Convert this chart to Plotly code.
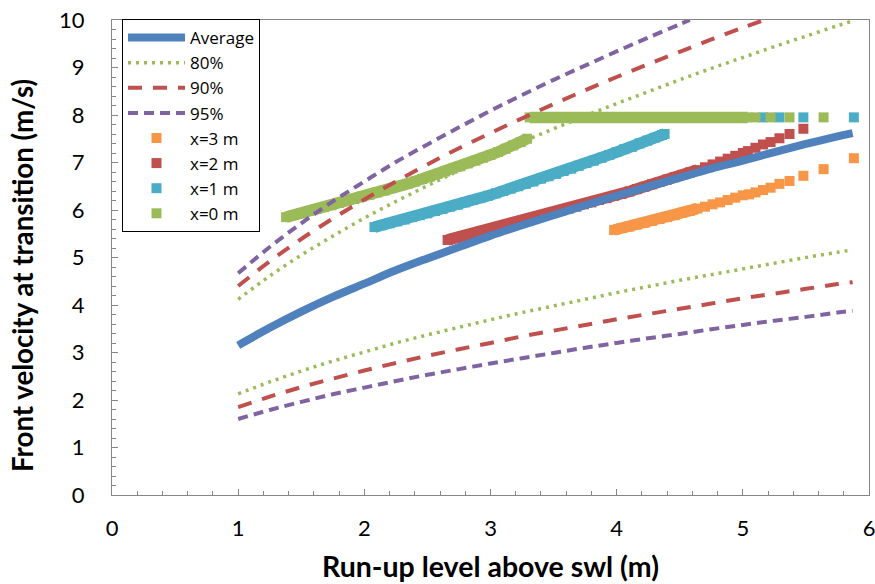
import plotly.graph_objects as go

# ---------------- data ----------------
curve_x = [1.0, 1.25, 1.5, 1.75, 2.0, 2.25, 2.5, 2.75, 3.0, 3.25, 3.5, 3.75,
           4.0, 4.25, 4.5, 4.75, 5.0, 5.25, 5.5, 5.75, 5.87]
avg_y = [3.15, 3.52, 3.86, 4.17, 4.45, 4.73, 4.98, 5.22, 5.46, 5.68, 5.89, 6.10,
         6.30, 6.49, 6.68, 6.87, 7.04, 7.22, 7.39, 7.55, 7.62]

p80_up = [4.12, 4.61, 5.05, 5.45, 5.83, 6.18, 6.51, 6.83, 7.14, 7.43, 7.71, 7.98,
          8.24, 8.49, 8.74, 8.98, 9.21, 9.44, 9.66, 9.88, 9.98]
p80_low = [2.13, 2.38, 2.61, 2.82, 3.01, 3.20, 3.37, 3.53, 3.69, 3.84, 3.98, 4.12,
           4.26, 4.39, 4.52, 4.64, 4.76, 4.88, 5.00, 5.11, 5.16]

p90_up_x = [1.0, 1.25, 1.5, 1.75, 2.0, 2.25, 2.5, 2.75, 3.0, 3.25, 3.5, 3.75,
            4.0, 4.25, 4.5, 4.75, 5.0, 5.17]
p90_up = [4.40, 4.92, 5.39, 5.82, 6.22, 6.60, 6.96, 7.30, 7.62, 7.93, 8.23, 8.52,
          8.80, 9.07, 9.33, 9.59, 9.84, 10.0]
p90_low = [1.85, 2.07, 2.27, 2.45, 2.62, 2.78, 2.93, 3.07, 3.20, 3.34, 3.46, 3.58,
           3.70, 3.81, 3.92, 4.03, 4.14, 4.24, 4.34, 4.44, 4.48]

p95_up_x = [1.0, 1.25, 1.5, 1.75, 2.0, 2.25, 2.5, 2.75, 3.0, 3.25, 3.5, 3.75,
            4.0, 4.25, 4.5, 4.58]
p95_up = [4.67, 5.22, 5.72, 6.18, 6.60, 7.01, 7.38, 7.74, 8.09, 8.42, 8.74, 9.04,
          9.34, 9.63, 9.91, 10.0]
p95_low = [1.60, 1.79, 1.96, 2.12, 2.26, 2.40, 2.53, 2.65, 2.77, 2.88, 2.99, 3.10,
           3.20, 3.30, 3.39, 3.49, 3.58, 3.67, 3.75, 3.84, 3.88]

# x = 3 m (orange)
x3_x = [3.98, 4.04, 4.10, 4.16, 4.22, 4.28, 4.34, 4.40, 4.46, 4.52, 4.58, 4.64,
        4.70, 4.76, 4.82, 4.88, 4.94, 5.00, 5.05,
        5.10, 5.16, 5.22, 5.29, 5.37, 5.48, 5.64, 5.88]
x3_y = [5.58, 5.62, 5.65, 5.69, 5.73, 5.77, 5.81, 5.85, 5.89, 5.94, 5.98, 6.03,
        6.07, 6.12, 6.16, 6.21, 6.26, 6.31, 6.33,
        6.37, 6.42, 6.47, 6.55, 6.61, 6.72, 6.86, 7.09]

# x = 2 m (red)
x2_x = [2.66, 2.72, 2.78, 2.84, 2.90, 2.96, 3.02, 3.08, 3.14, 3.20, 3.26, 3.32,
        3.38, 3.44, 3.50, 3.56, 3.62, 3.68, 3.74, 3.80, 3.86, 3.92, 3.98, 4.04,
        4.10, 4.16, 4.22, 4.28, 4.34, 4.40, 4.46, 4.52, 4.58, 4.64, 4.70, 4.76,
        4.82, 4.88, 4.94, 5.00, 5.04,
        5.10, 5.16, 5.22, 5.29, 5.37, 5.48]
x2_y = [5.37, 5.41, 5.45, 5.49, 5.53, 5.57, 5.61, 5.65, 5.69, 5.73, 5.78, 5.82,
        5.86, 5.90, 5.95, 5.99, 6.03, 6.07, 6.12, 6.16, 6.21, 6.25, 6.30, 6.34,
        6.39, 6.44, 6.49, 6.54, 6.59, 6.64, 6.69, 6.74, 6.79, 6.84, 6.90, 6.96,
        7.02, 7.08, 7.14, 7.20, 7.24,
        7.31, 7.38, 7.43, 7.51, 7.60, 7.71]

# x = 1 m (cyan)
x1_x = [2.08, 2.14, 2.20, 2.26, 2.32, 2.38, 2.44, 2.50, 2.56, 2.62, 2.68, 2.74,
        2.80, 2.86, 2.92, 2.98, 3.04, 3.10, 3.16, 3.22, 3.28, 3.34, 3.40, 3.46,
        3.52, 3.58, 3.64, 3.70, 3.76, 3.82, 3.88, 3.94, 4.00, 4.06, 4.12, 4.18,
        4.24, 4.30, 4.36, 4.38,
        5.16, 5.29, 5.48, 5.88]
x1_y = [5.64, 5.68, 5.72, 5.76, 5.80, 5.85, 5.89, 5.93, 5.98, 6.02, 6.07, 6.11,
        6.16, 6.21, 6.25, 6.30, 6.35, 6.40, 6.45, 6.50, 6.55, 6.60, 6.66, 6.71,
        6.76, 6.82, 6.87, 6.93, 6.99, 7.04, 7.10, 7.16, 7.22, 7.28, 7.33, 7.40,
        7.46, 7.52, 7.58, 7.60,
        7.95, 7.95, 7.95, 7.95]

# x = 0 m (green)
x0_x = [1.38, 1.44, 1.50, 1.56, 1.62, 1.68, 1.74, 1.80, 1.86, 1.92, 1.98, 2.04,
        2.10, 2.16, 2.22, 2.28, 2.34, 2.40, 2.46, 2.52, 2.58, 2.64, 2.70, 2.76,
        2.82, 2.88, 2.94, 3.00, 3.06, 3.12, 3.18, 3.24, 3.29,
        3.31, 3.37, 3.43, 3.49, 3.55, 3.61, 3.67, 3.73, 3.79, 3.85, 3.91, 3.97,
        4.03, 4.09, 4.15, 4.21, 4.27, 4.33, 4.39, 4.45, 4.51, 4.57, 4.63, 4.69,
        4.75, 4.81, 4.87, 4.93, 4.99, 5.04, 5.10, 5.22, 5.37, 5.64]
x0_y = [5.85, 5.89, 5.93, 5.98, 6.02, 6.06, 6.10, 6.15, 6.19, 6.23, 6.28, 6.32,
        6.37, 6.41, 6.46, 6.51, 6.55, 6.60, 6.65, 6.70, 6.76, 6.81, 6.87, 6.92,
        6.98, 7.04, 7.10, 7.16, 7.22, 7.29, 7.36, 7.43, 7.50,
        7.95, 7.95, 7.95, 7.95, 7.95, 7.95, 7.95, 7.95, 7.95, 7.95, 7.95, 7.95,
        7.95, 7.95, 7.95, 7.95, 7.95, 7.95, 7.95, 7.95, 7.95, 7.95, 7.95, 7.95,
        7.95, 7.95, 7.95, 7.95, 7.95, 7.95, 7.95, 7.95, 7.95, 7.95]

# index ranges [start, stop) of the densely packed runs of each marker series
x3_dense = [(0, 12)]
x2_dense = [(0, 34)]
x1_dense = [(0, 40)]
x0_dense = [(0, 33), (33, 63)]

x_ticks = [0, 1, 2, 3, 4, 5, 6]
y_ticks = [0, 1, 2, 3, 4, 5, 6, 7, 8, 9, 10]

x_title = "Run-up level above swl (m)"
y_title = "Front velocity at transition (m/s)"

# ---------------- styling ----------------
BLUE = "#4F81BD"
RED = "#C0504D"
GREEN = "#9BBB59"
PURPLE = "#8064A2"
CYAN = "#4BACC6"
ORANGE = "#F79646"
FONT = "Lato"
LEGEND_FONT = "Open Sans"
AXIS_GREY = "#868686"

fig = go.Figure()


def markers(x, y, dense, name, color, rank):
    # continuous band under the densely packed squares
    bx, by = [], []
    for a, b in dense:
        bx += list(x[a:b]) + [None]
        by += list(y[a:b]) + [None]
    fig.add_trace(go.Scatter(
        x=bx, y=by, mode="lines", showlegend=False, hoverinfo="skip",
        connectgaps=False, line=dict(color=color, width=11.5),
    ))
    fig.add_trace(go.Scatter(
        x=x, y=y, mode="markers", name=name, legendrank=rank,
        marker=dict(symbol="square", size=10, color=color, line=dict(width=0)),
    ))


markers(x3_x, x3_y, x3_dense, "x=3 m", ORANGE, 5)
markers(x2_x, x2_y, x2_dense, "x=2 m", RED, 6)
markers(x1_x, x1_y, x1_dense, "x=1 m", CYAN, 7)
markers(x0_x, x0_y, x0_dense, "x=0 m", GREEN, 8)

fig.add_trace(go.Scatter(
    x=curve_x, y=avg_y, mode="lines", name="Average", legendrank=1,
    line=dict(color=BLUE, width=8, shape="spline", smoothing=1),
))


def band(xu, yu, xl, yl, name, color, dash, width, rank):
    fig.add_trace(go.Scatter(
        x=list(xu) + [None] + list(xl), y=list(yu) + [None] + list(yl),
        mode="lines", name=name, legendrank=rank, connectgaps=False,
        line=dict(color=color, width=width, dash=dash, shape="spline", smoothing=1),
    ))


band(curve_x, p80_up, curve_x, p80_low, "80%", GREEN, "3px,5px", 3.5, 2)
band(p90_up_x, p90_up, curve_x, p90_low, "90%", RED, "14px,11px", 4, 3)
band(p95_up_x, p95_up, curve_x, p95_low, "95%", PURPLE, "10px,6px", 4, 4)

axis_common = dict(
    showline=True, linecolor=AXIS_GREY, linewidth=1, mirror=True,
    showgrid=False, zeroline=False, automargin=False,
    ticks="inside", ticklen=6, tickcolor=AXIS_GREY,
    ticklabeloverflow="allow",
    tickfont=dict(family=FONT, size=22, color="black"),
)

fig.update_layout(
    width=875, height=584,
    margin=dict(l=112, r=6, t=20, b=89),
    paper_bgcolor="white", plot_bgcolor="white",
    font=dict(family=FONT, color="black"),
    showlegend=True,
    legend=dict(
        x=0.0132, y=1.002, xanchor="left", yanchor="top",
        bgcolor="white", bordercolor="black", borderwidth=1,
        font=dict(family=LEGEND_FONT, size=17, color="black"),
        traceorder="normal", itemwidth=57,
    ),
    xaxis=dict(
        range=[0, 6], tickvals=x_ticks, ticktext=[str(v) for v in x_ticks],
        minor=dict(dtick=0.2, ticks="inside", ticklen=4, tickcolor=AXIS_GREY),
        ticklabelstandoff=14,
        title=dict(text="<b>" + x_title + "</b>",
                   font=dict(family=FONT, size=28.5, color="black"), standoff=16),
        **axis_common,
    ),
    yaxis=dict(
        range=[0, 10], tickvals=y_ticks, ticktext=[str(v) for v in y_ticks],
        minor=dict(dtick=0.2, ticks="inside", ticklen=4, tickcolor=AXIS_GREY),
        ticklabelstandoff=22,
        **axis_common,
    ),
    annotations=[dict(
        text="<b>" + y_title + "</b>", textangle=-90,
        xref="paper", yref="paper", x=-0.1176, y=0.4632,
        xanchor="center", yanchor="middle", showarrow=False,
        font=dict(family=FONT, size=27.7, color="black"),
    )],
)

# the browser's default 8px body margin would shift the 875x584 figure
fig.write_html("out.html", config={"displayModeBar": False},
               post_script="document.body.style.margin='0';")
